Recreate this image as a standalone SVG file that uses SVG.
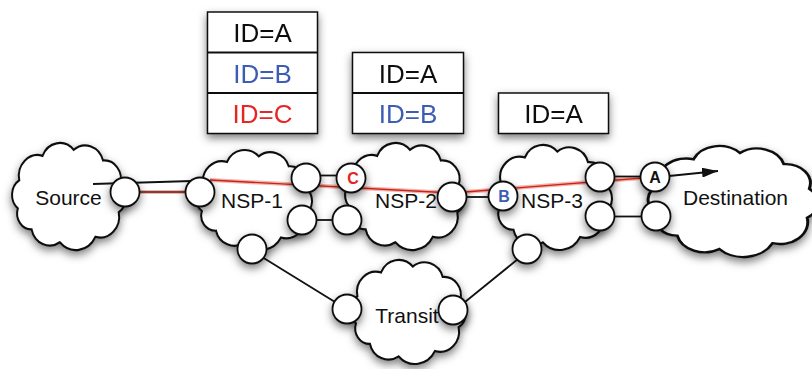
<svg xmlns="http://www.w3.org/2000/svg" xmlns:xlink="http://www.w3.org/1999/xlink" width="812" height="369" viewBox="0 0 812 369">
<style>
.cloud{fill:#fff;stroke:#111;stroke-width:1.8;vector-effect:non-scaling-stroke}
.port{fill:#fff;stroke:#111;stroke-width:1.8}
.lbl{font-family:"Liberation Sans",Arial,sans-serif;font-size:21px;fill:#111;text-anchor:middle}
.plbl{font-family:"Liberation Sans",Arial,sans-serif;font-size:16px;font-weight:bold;text-anchor:middle}
.id{font-family:"Liberation Sans",Arial,sans-serif;font-size:26px;text-anchor:middle}
.box{fill:#fff;stroke:#111;stroke-width:1.5}
.ln{stroke:#111;stroke-width:1.8;fill:none}
.glow{stroke:#f4b4aa;stroke-width:4;fill:none}
.red{stroke:#c8231e;stroke-width:1.4;fill:none}
</style>
<defs>
<filter id="sh" x="-20%" y="-20%" width="150%" height="150%">
<feDropShadow dx="0" dy="4" stdDeviation="4" flood-color="#000" flood-opacity="0.5"/>
</filter>
<path id="cl" d="M14.9 37 A17 17 0 0 1 36 17.1 A17 17 0 0 1 64.2 12.2 A17 17 0 0 1 90.9 20.9 A15 15 0 0 1 106.4 40.2 A14 14 0 0 1 105.1 63 A17 17 0 0 1 84 82.9 A20 20 0 0 1 51.7 87.4 A17 17 0 0 1 26.1 76.9 A13 13 0 0 1 13.6 59.8 A14 14 0 0 1 14.9 37 Z"/>
<marker id="ah" markerWidth="16" markerHeight="10" refX="16" refY="5" orient="auto" markerUnits="userSpaceOnUse">
<path d="M0 0 L16 5 L0 10 Z" fill="#111"/>
</marker>
</defs>

<g id="id-boxes" filter="url(#sh)">
<g id="box-nsp1">
<rect class="box" x="207.5" y="12" width="110" height="121.5"/>
<line class="ln" x1="207.5" y1="52.5" x2="317.5" y2="52.5" stroke-width="1.5"/>
<line class="ln" x1="207.5" y1="93" x2="317.5" y2="93" stroke-width="1.5"/>
<text class="id" x="262.5" y="42" fill="#111">ID=A</text>
<text class="id" x="262.5" y="83" fill="#3c5cb4">ID=B</text>
<text class="id" x="262.5" y="123" fill="#e52521">ID=C</text>
</g>
<g id="box-nsp2">
<rect class="box" x="352.5" y="52.5" width="111" height="81"/>
<line class="ln" x1="352.5" y1="93" x2="463.5" y2="93" stroke-width="1.5"/>
<text class="id" x="408" y="83" fill="#111">ID=A</text>
<text class="id" x="408" y="123" fill="#3c5cb4">ID=B</text>
</g>
<g id="box-nsp3">
<rect class="box" x="498.5" y="93" width="110" height="40.5"/>
<text class="id" x="553.5" y="123" fill="#111">ID=A</text>
</g>
</g>

<g id="source" filter="url(#sh)"><use xlink:href="#cl" class="cloud" transform="translate(2.85 134.8) scale(1.1025 1.23)"/></g>
<g id="nsp1" filter="url(#sh)"><use xlink:href="#cl" class="cloud" transform="translate(186.7 142.3) scale(1.122 1.149)"/></g>
<g id="nsp2" filter="url(#sh)"><use xlink:href="#cl" class="cloud" transform="translate(335.4 134.8) scale(1.16 1.23)"/></g>
<g id="nsp3" filter="url(#sh)"><use xlink:href="#cl" class="cloud" transform="translate(483.4 136.9) scale(1.151 1.207)"/></g>
<g id="destination" filter="url(#sh)"><use xlink:href="#cl" class="cloud" transform="translate(634.35 137.45) scale(1.644 1.276)"/></g>
<g id="transit" filter="url(#sh)"><use xlink:href="#cl" class="cloud" transform="translate(340.7 252) scale(1.122 1.195)"/></g>

<g id="cloud-labels">
<text class="lbl" x="68.5" y="205">Source</text>
<text class="lbl" x="252" y="208">NSP-1</text>
<text class="lbl" x="406" y="208">NSP-2</text>
<text class="lbl" x="552" y="208">NSP-3</text>
<text class="lbl" x="735.5" y="205">Destination</text>
<text class="lbl" x="407" y="323">Transit</text>
</g>

<g id="connectors">
<line class="ln" x1="93" y1="184" x2="192" y2="181"/>
<line class="glow" x1="139" y1="192" x2="188" y2="192"/>
<line x1="139" y1="192" x2="188" y2="192" stroke="#5a1a14" stroke-width="1.5"/>
<polyline class="glow" points="210,180 452,193 655,177"/>
<polyline class="red" points="210,180 452,193 655,177"/>
<line class="ln" x1="318" y1="175.5" x2="340" y2="175.5"/>
<line class="ln" x1="314" y1="220" x2="336" y2="220"/>
<line class="ln" x1="464" y1="197" x2="492" y2="197"/>
<line class="ln" x1="612" y1="176.5" x2="643" y2="176.5"/>
<line class="ln" x1="612" y1="216.5" x2="644" y2="216.5"/>
<line class="ln" x1="262" y1="257" x2="335" y2="302"/>
<line class="ln" x1="518" y1="259" x2="465" y2="302"/>
<line class="ln" x1="669" y1="176" x2="718" y2="171" marker-end="url(#ah)"/>
</g>

<g id="ports" filter="url(#sh)">
<circle class="port" cx="125" cy="192" r="14.5"/>
<circle class="port" cx="200" cy="192" r="14.5"/>
<circle class="port" cx="306" cy="178" r="14.5"/>
<circle class="port" cx="302" cy="220" r="14.5"/>
<circle class="port" cx="252" cy="249" r="14.5"/>
<circle class="port" cx="351" cy="178" r="14.5"/>
<circle class="port" cx="347" cy="220" r="14.5"/>
<circle class="port" cx="452" cy="197" r="14.5"/>
<circle class="port" cx="503" cy="196" r="14.5"/>
<circle class="port" cx="600" cy="177" r="14.5"/>
<circle class="port" cx="600" cy="216" r="14.5"/>
<circle class="port" cx="527" cy="249" r="14.5"/>
<circle class="port" cx="655" cy="177" r="14.5"/>
<circle class="port" cx="656" cy="216" r="14.5"/>
<circle class="port" cx="347" cy="309" r="14.5"/>
<circle class="port" cx="453" cy="310" r="14.5"/>
</g>
<g id="port-labels">
<text class="plbl" x="353" y="183.5" fill="#e52521">C</text>
<text class="plbl" x="504" y="202" fill="#3c5cb4">B</text>
<text class="plbl" x="655" y="183" fill="#111">A</text>
</g>
</svg>
